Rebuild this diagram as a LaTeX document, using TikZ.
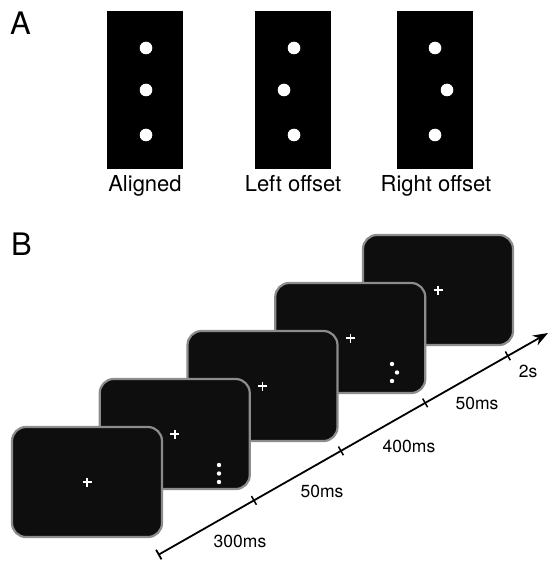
\documentclass[tikz,border=0pt]{standalone}
\usepackage{fontspec}
\setmainfont{TeX Gyre Heros}
\usetikzlibrary{arrows.meta,calc}

\definecolor{screenfill}{RGB}{14,14,14}
\definecolor{screenedge}{RGB}{140,140,140}

\tikzset{
  screen/.style={fill=screenfill, draw=screenedge, line width=2.2pt, rounded corners=14pt},
  cross/.style={draw=white, line width=1.5pt},
  panel/.style={font=\fontsize{31}{36}\selectfont, anchor=base west, inner sep=0pt},
  condlabel/.style={font=\fontsize{22}{26}\selectfont, anchor=base, inner sep=0pt},
  timelabel/.style={font=\fontsize{17.5}{20}\selectfont, anchor=base, inner sep=0pt}
}

\begin{document}
\begin{tikzpicture}[x=1pt, y=-1pt]
  \useasboundingbox (0,0) rectangle (549,561);

  % panel A
  \node[panel] (lblA) at (10,35) {A};

  % three stimulus cards
  \fill[black] (107,11) rectangle (183,169);
  \fill[black] (255,11) rectangle (331,169);
  \fill[black] (397,11) rectangle (473,169);

  % dots: aligned, left offset, right offset
  \foreach \x/\y in {146/48, 146/90, 146/135, 294/48, 284/90, 294/135, 435/48, 447/90, 435/135}
    \fill[white] (\x,\y) circle (6.3pt);

  \node[condlabel] (aligned) at (145,192) {Aligned};
  \node[condlabel] (leftoff) at (293,192) {Left offset};
  \node[condlabel] (rightoff) at (436,192) {Right offset};

  % panel B
  \node[panel] (lblB) at (11,255) {B};

  % screens, back to front
  \foreach \k in {4,3,2,1,0} {
    \pgfmathsetmacro{\sx}{12+87.75*\k}
    \pgfmathsetmacro{\sy}{427-48*\k}
    \draw[screen] (\sx,\sy) rectangle ++(150,110);
    \draw[cross] (\sx+70.5,\sy+55) -- ++(9,0) (\sx+75,\sy+50.5) -- ++(0,9);
  }

  % target dots on the second and fourth screen
  \foreach \x/\y in {219/465, 219/473.5, 219/482, 392/364, 397/372.5, 392/381}
    \fill[white] (\x,\y) circle (2.2pt);

  % time axis
  \coordinate (t0) at (158,555);
  \coordinate (t1) at (548,333);
  \draw[line width=1.8pt, {Bar[width=11pt]}-{Stealth[length=15pt,width=11pt]}] (t0) -- (t1);
  \foreach \p in {0.246,0.469,0.685,0.897}
    \draw[line width=1.5pt] ($(t0)!\p!(t1)!5pt!90:(t1)$) -- ($(t0)!\p!(t1)!5pt!-90:(t1)$);

  \node[timelabel] (d300) at (240,547) {300ms};
  \node[timelabel] (d50a) at (322,497) {50ms};
  \node[timelabel] (d400) at (409,452) {400ms};
  \node[timelabel] (d50b) at (477,409) {50ms};
  \node[timelabel] (d2s) at (528,377) {2s};
\end{tikzpicture}
\end{document}
